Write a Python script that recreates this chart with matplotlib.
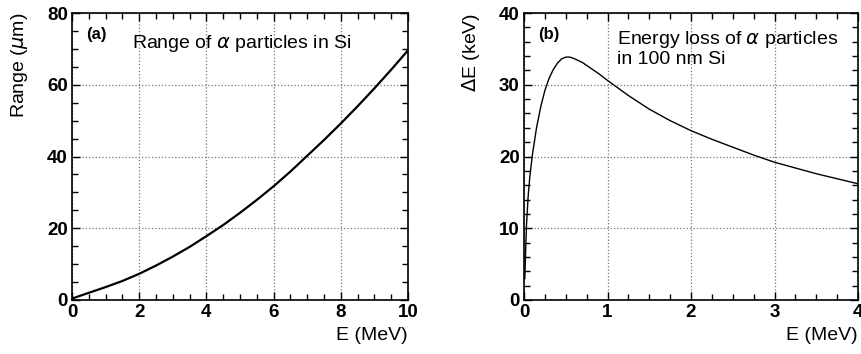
import matplotlib
matplotlib.use("Agg")
import matplotlib.pyplot as plt
from matplotlib.ticker import MultipleLocator

plt.rcParams['font.family'] = ['Liberation Sans', 'DejaVu Sans']
plt.rcParams['mathtext.fontset'] = 'dejavusans'

# Panel (a): range of alpha particles in Si
energy_a = [0.0, 0.5, 1.0, 1.5, 2.0, 2.5, 3.0, 3.5, 4.0, 4.5, 5.0, 5.5, 6.0, 6.5, 7.0, 7.5, 8.0, 8.5, 9.0, 9.5, 10.0]
range_um = [0.4, 2.0, 3.6, 5.3, 7.3, 9.6, 12.1, 14.8, 17.8, 20.9, 24.3, 27.9, 31.7, 35.8, 40.2, 44.6, 49.2, 54.0, 59.0, 64.2, 69.6]

# Panel (b): energy loss in 100 nm Si
energy_b = [0.01, 0.02, 0.03, 0.05, 0.07, 0.1, 0.15, 0.2, 0.25, 0.3, 0.35, 0.4, 0.45, 0.5, 0.55, 0.6, 0.7, 0.8, 0.9, 1.0,
            1.25, 1.5, 1.75, 2.0, 2.25, 2.5, 2.75, 3.0, 3.25, 3.5, 3.75, 4.0]
delta_e = [3.0, 7.0, 10.5, 14.5, 17.2, 20.2, 24.0, 26.9, 29.2, 30.9, 32.1, 33.0, 33.6, 33.85, 33.85, 33.65, 33.1, 32.3, 31.5, 30.6,
           28.5, 26.6, 25.0, 23.6, 22.4, 21.3, 20.2, 19.2, 18.4, 17.6, 16.9, 16.2]

fig = plt.figure(figsize=(8.61, 3.54), dpi=100)
ax1 = fig.add_axes([72/861, 1-300/354, 336/861, 287/354])
ax2 = fig.add_axes([524/861, 1-300/354, 334/861, 287/354])

def style(ax, xmaj, xmin, ymaj, ymin):
    ax.xaxis.set_major_locator(MultipleLocator(xmaj))
    ax.xaxis.set_minor_locator(MultipleLocator(xmin))
    ax.yaxis.set_major_locator(MultipleLocator(ymaj))
    ax.yaxis.set_minor_locator(MultipleLocator(ymin))
    ax.tick_params(which='both', direction='in', top=True, right=True, width=1.0)
    ax.tick_params(which='major', length=6, labelsize=13.5, pad=3)
    ax.tick_params(which='minor', length=4)
    for lab in ax.get_xticklabels() + ax.get_yticklabels():
        lab.set_fontweight('bold')
    ax.grid(True, which='major', linestyle=':', color='#777777', linewidth=0.9)
    for s in ax.spines.values():
        s.set_linewidth(1.2)

ax1.plot(energy_a, range_um, color='black', lw=1.6)
ax1.set_xlim(0, 10)
ax1.set_ylim(0, 80)
style(ax1, 2, 0.5, 20, 5)
ax1.set_xlabel('E (MeV)', fontsize=14, loc='right')
ax1.set_ylabel(r'Range ($\mu$m)', fontsize=14, loc='top')
ax1.xaxis.set_label_coords(1.0, -0.095)
ax1.yaxis.set_label_coords(-0.125, 1.0)
ax1.text(0.042, 0.925, '(a)', transform=ax1.transAxes, fontsize=12, fontweight='bold', va='center')
ax1.text(0.178, 0.895, r'Range of $\alpha$ particles in Si', transform=ax1.transAxes, fontsize=14, va='center')

ax2.plot(energy_b, delta_e, color='black', lw=1.0)
ax2.set_xlim(0, 4)
ax2.set_ylim(0, 40)
style(ax2, 1, 0.25, 10, 2)
ax2.set_xlabel('E (MeV)', fontsize=14, loc='right')
ax2.set_ylabel(r'$\Delta$E (keV)', fontsize=14, loc='top')
ax2.xaxis.set_label_coords(1.0, -0.095)
ax2.yaxis.set_label_coords(-0.125, 1.0)
ax2.text(0.042, 0.925, '(b)', transform=ax2.transAxes, fontsize=12, fontweight='bold', va='center')
ax2.text(0.278, 0.945, 'Energy loss of $\\alpha$ particles\nin 100 nm Si', transform=ax2.transAxes,
         fontsize=14, va='top', linespacing=1.1)

fig.savefig('out.png', dpi=100)
